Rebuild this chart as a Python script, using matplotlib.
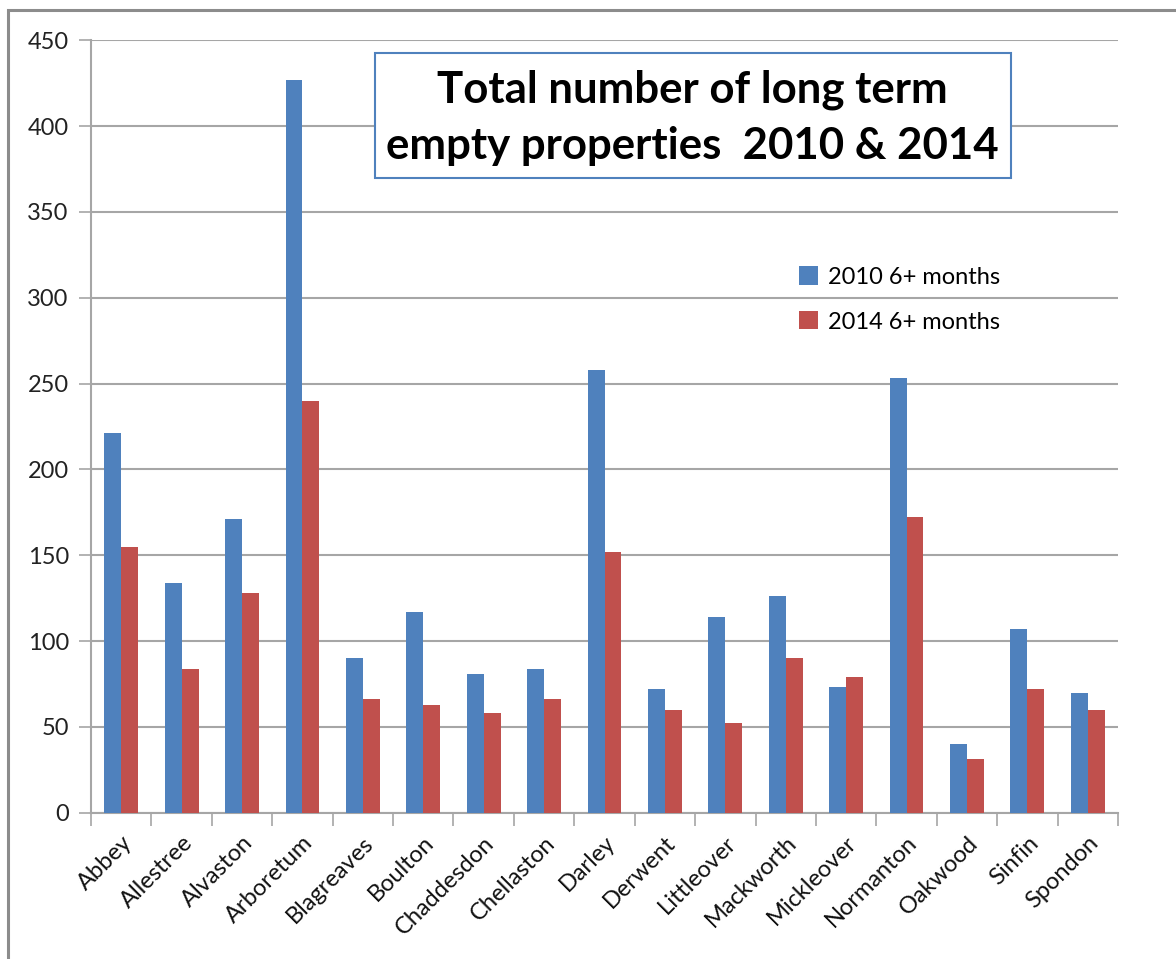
import matplotlib.pyplot as plt
import numpy as np
from matplotlib.patches import Rectangle

plt.rcParams['font.family'] = ['Lato', 'DejaVu Sans']

# wards and long term empty property counts
wards = ["Abbey", "Allestree", "Alvaston", "Arboretum", "Blagreaves", "Boulton",
         "Chaddesdon", "Chellaston", "Darley", "Derwent", "Littleover", "Mackworth",
         "Mickleover", "Normanton", "Oakwood", "Sinfin", "Spondon"]
y2010 = [221, 134, 171, 427, 90, 117, 81, 84, 258, 72, 114, 126, 73, 253, 40, 107, 70]
y2014 = [155, 84, 128, 240, 66, 63, 58, 66, 152, 60, 52, 90, 79, 172, 31, 72, 60]
labels = ["2010 6+ months", "2014 6+ months"]
yticks = [0, 50, 100, 150, 200, 250, 300, 350, 400, 450]

blue = "#4f81bd"
red = "#c0504d"
grid = "#a6a6a6"

W, H = 1176, 959
fig = plt.figure(figsize=(W / 100, H / 100), dpi=100)

# outer frame (top and left edges visible)
fig.patches.append(Rectangle((8 / W, -0.1), 1.2, 1 - 10 / H + 0.1,
                             transform=fig.transFigure, fill=False,
                             edgecolor="#8c8c8c", linewidth=2.2))

ax = fig.add_axes([91 / W, 1 - 812.7 / H, (1118 - 91) / W, (812.7 - 40.3) / H])

x = np.arange(len(wards))
w = 0.28
ax.bar(x - w / 2, y2010, w, color=blue, label=labels[0], zorder=3)
ax.bar(x + w / 2, y2014, w, color=red, label=labels[1], zorder=3)

ax.set_xlim(-0.5, len(wards) - 0.5)
ax.set_ylim(0, 450)
ax.set_yticks(yticks)
ax.tick_params(axis="y", labelsize=17, colors="#222222", length=9, width=1.2,
               color=grid, pad=7)
ax.yaxis.grid(True, color=grid, linewidth=1.5, zorder=0)

# x ticks at category boundaries, labels at centers
ax.set_xticks(np.arange(len(wards) + 1) - 0.5)
ax.set_xticklabels([])
ax.set_xticks(x, minor=True)
ax.set_xticklabels(wards, minor=True, rotation=45, ha="right",
                   rotation_mode="anchor", fontsize=17, color="#111111")
ax.tick_params(axis="x", which="major", length=9, width=1.2, color=grid)
ax.tick_params(axis="x", which="minor", length=0, pad=14)

for s in ["top", "right"]:
    ax.spines[s].set_visible(False)
for s in ["left", "bottom"]:
    ax.spines[s].set_color(grid)
    ax.spines[s].set_linewidth(1.5)

# title box
fig.patches.append(Rectangle((375 / W, 1 - 178.3 / H), (1011 - 375) / W, (178.3 - 53.3) / H,
                             transform=fig.transFigure, facecolor="white",
                             edgecolor=blue, linewidth=1.5, zorder=5))
fig.text(692 / W, 1 - 90 / H, "Total number of long term", ha="center", va="center",
         fontsize=31.5, fontweight="bold", zorder=6)
fig.text(692 / W, 1 - 146 / H, "empty properties  2010 & 2014", ha="center", va="center",
         fontsize=31.5, fontweight="bold", zorder=6)

ax.legend(loc="upper left", bbox_to_anchor=(790 / W, 1 - 257 / H),
          bbox_transform=fig.transFigure, frameon=False, fontsize=17,
          handlelength=0.8, handleheight=0.8, handletextpad=0.4,
          labelspacing=1.0, borderaxespad=0)

fig.savefig("out.png", dpi=100, facecolor="white")
